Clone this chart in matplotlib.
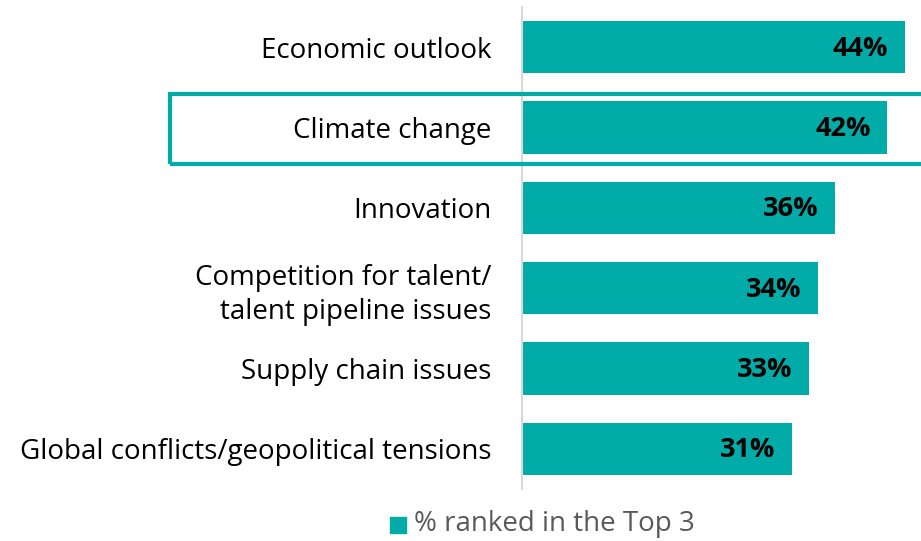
import matplotlib
matplotlib.use("Agg")
import matplotlib.pyplot as plt
from matplotlib.patches import Rectangle

categories = [
    "Economic outlook",
    "Climate change",
    "Innovation",
    "Competition for talent/\ntalent pipeline issues",
    "Supply chain issues",
    "Global conflicts/geopolitical tensions",
]
values = [44, 42, 36, 34, 33, 31]
series_name = "% ranked in the Top 3"
highlight = "Climate change"

TEAL = "#00ABA8"
W, H = 921, 541
fig = plt.figure(figsize=(W / 100, H / 100), dpi=100)
plt.rcParams["font.family"] = ["Open Sans", "DejaVu Sans"]

ax_left, ax_right = 522 / W, 1.0
ax_top, ax_bot = 1 - 7 / H, 1 - 489 / H
ax = fig.add_axes([ax_left, ax_bot, ax_right - ax_left, ax_top - ax_bot])

ypos = list(range(len(categories)))
ax.barh(ypos, values, height=0.65, color=TEAL, zorder=2)
ax.set_ylim(len(categories) - 0.5, -0.5)
ax.set_xlim(0, (W - 522) / 8.7)

for y, v in zip(ypos, values):
    ax.text(v - 1.9, y + 0.02, f"{v}%", ha="right", va="center", fontsize=19.5,
            fontweight="bold", color="black", zorder=3)

ax.set_yticks(ypos)
ax.set_yticklabels(categories, fontsize=20, color="black", ha="right",
                   linespacing=1.3)
ax.tick_params(axis="y", length=0, pad=22)
ax.set_xticks([])
for s in ["top", "right", "bottom"]:
    ax.spines[s].set_visible(False)
ax.spines["left"].set_color("#d9d9d9")
ax.spines["left"].set_linewidth(1.5)

# highlight box around the chosen category
hi = categories.index(highlight)
y_top_px = ax.transData.transform((0, hi - 0.42))[1]
y_bot_px = ax.transData.transform((0, hi + 0.46))[1]
rect = Rectangle((170 / W, y_bot_px / H), 1.0, (y_top_px - y_bot_px) / H,
                 transform=fig.transFigure, fill=False, edgecolor=TEAL,
                 linewidth=3, clip_on=False, zorder=5)
fig.patches.append(rect)

# legend
fig.patches.append(Rectangle((390 / W, 1 - 533 / H), 16 / W, 16 / H,
                             transform=fig.transFigure, color=TEAL))
fig.text(414 / W, 1 - 524 / H, series_name, ha="left", va="center",
         fontsize=20, color="#595959")

fig.savefig("out.png", dpi=100)
